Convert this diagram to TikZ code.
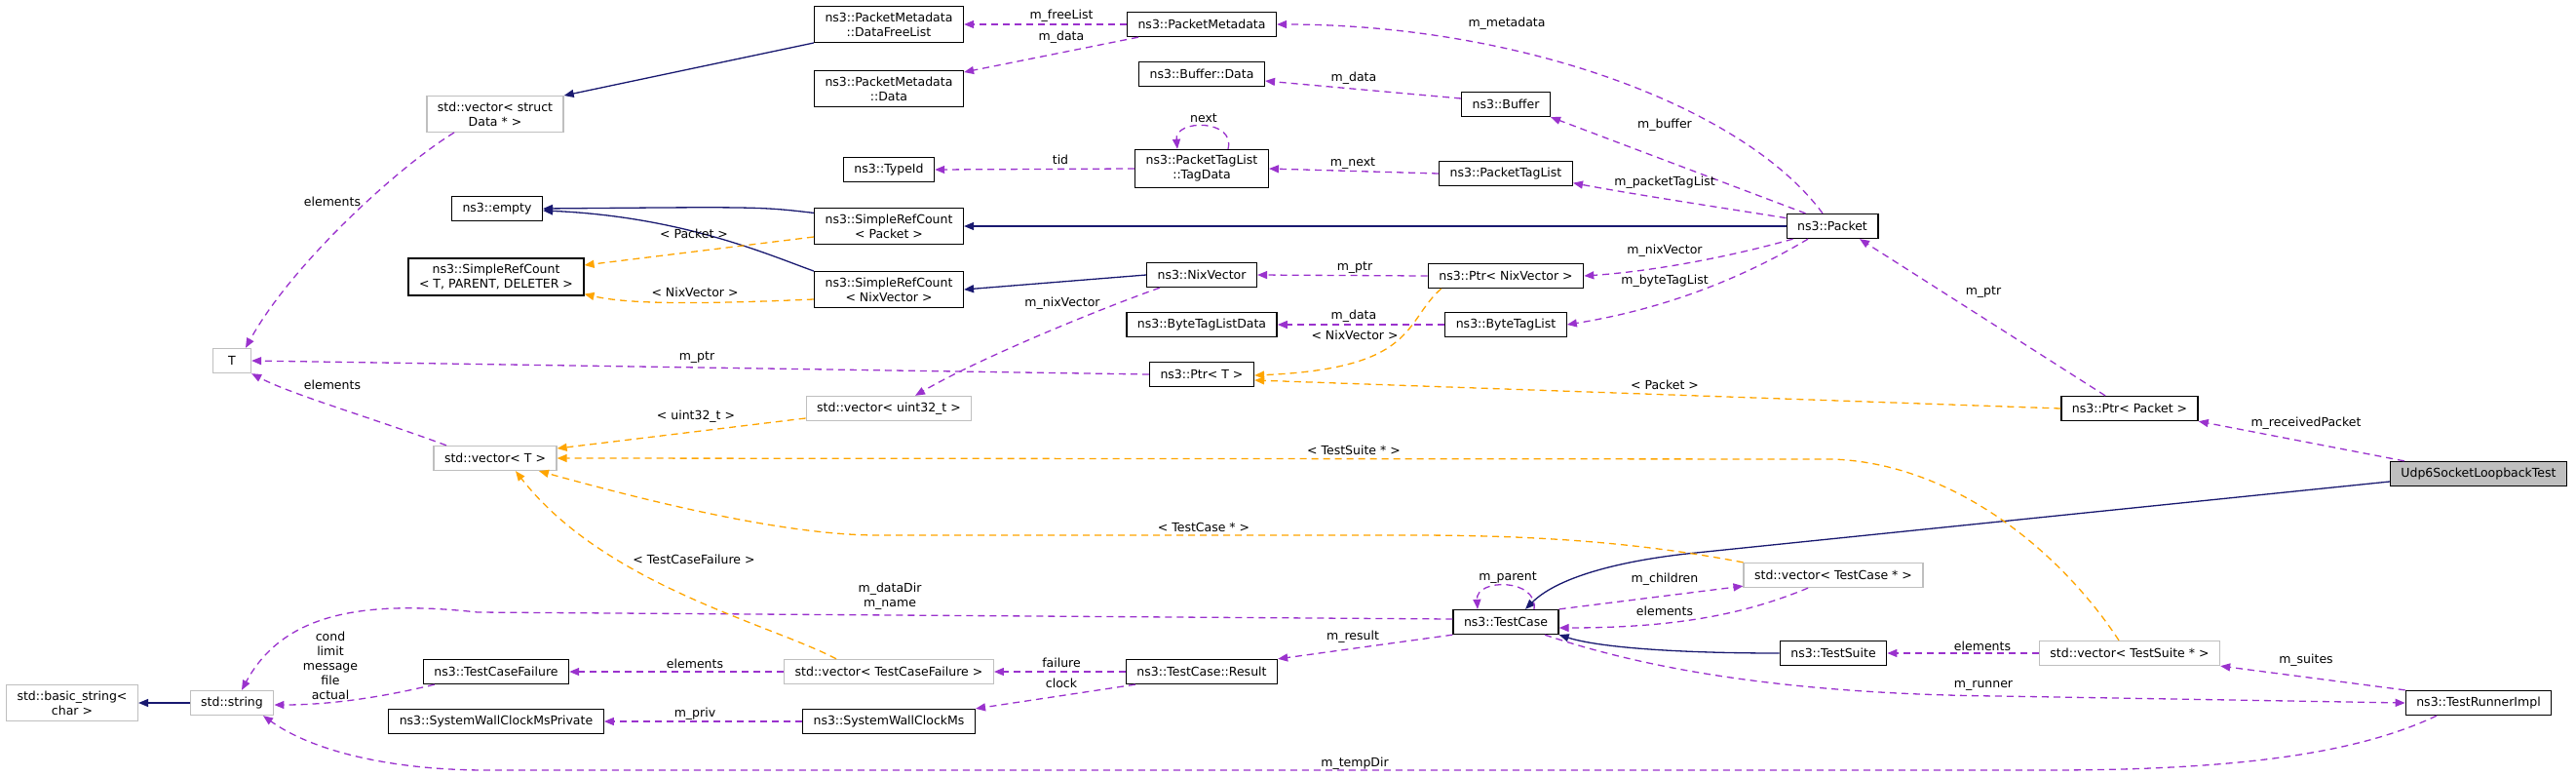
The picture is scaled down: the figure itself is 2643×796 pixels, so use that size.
\documentclass[tikz,border=0pt]{standalone}
\usepackage{fontspec}
\setmainfont{DejaVu Sans}
\usetikzlibrary{arrows.meta}
\definecolor{navy}{HTML}{191970}
\definecolor{orchid}{HTML}{9A32CD}
\definecolor{tmplorange}{HTML}{FFA500}
\definecolor{grey75}{HTML}{BFBFBF}
\newcommand{\dxfont}{\fontsize{12.5}{15}\selectfont}
\tikzset{
  cls/.style={draw=black, fill=white, line width=1.3pt, minimum height=25pt, minimum width=39pt,
    inner xsep=11pt, inner ysep=6pt, align=center, font=\dxfont},
  undoc/.style={cls, draw=grey75},
  focus/.style={cls, fill=grey75},
  lbl/.style={inner sep=0pt, align=center, font=\dxfont},
  inherit/.style={draw=navy, line width=1.3pt, -{Triangle[length=10pt,width=8pt]}},
  member/.style={draw=orchid, line width=1.3pt, dash pattern=on 7pt off 5pt, -{Triangle[length=10pt,width=8pt]}},
  templ/.style={draw=tmplorange, line width=1.3pt, dash pattern=on 7pt off 5pt, -{Triangle[length=10pt,width=8pt]}},
}
\begin{document}
\begin{tikzpicture}[x=1pt,y=-1pt]
\useasboundingbox (0,0) rectangle (2643,796);
\node [cls] (dfl) at (912,25) {ns3::PacketMetadata\\::DataFreeList};
\node [cls] (pmd) at (912,91) {ns3::PacketMetadata\\::Data};
\node [cls] (pm) at (1233,25) {ns3::PacketMetadata};
\node [cls] (bufd) at (1233,76) {ns3::Buffer::Data};
\node [cls] (buf) at (1545,107) {ns3::Buffer};
\node [undoc] (vecdata) at (508,117) {std::vector< struct\\Data * >};
\node [cls] (tid) at (912,174) {ns3::TypeId};
\node [cls] (tagd) at (1233,173) {ns3::PacketTagList\\::TagData};
\node [cls] (ptl) at (1545,178) {ns3::PacketTagList};
\node [cls] (empty) at (510,214) {ns3::empty};
\node [cls] (srcp) at (912,232) {ns3::SimpleRefCount\\< Packet >};
\node [cls] (pkt) at (1880,232) {ns3::Packet};
\node [cls] (srct) at (509,284) {ns3::SimpleRefCount\\< T, PARENT, DELETER >};
\node [cls] (srcn) at (912,297) {ns3::SimpleRefCount\\< NixVector >};
\node [cls] (nix) at (1233,282) {ns3::NixVector};
\node [cls] (ptrnix) at (1545,283) {ns3::Ptr< NixVector >};
\node [cls] (btld) at (1233,333) {ns3::ByteTagListData};
\node [cls] (btl) at (1545,333) {ns3::ByteTagList};
\node [undoc] (T) at (238,370) {T};
\node [cls] (ptrt) at (1233,384) {ns3::Ptr< T >};
\node [undoc] (vecu) at (912,419) {std::vector< uint32\_t >};
\node [cls] (ptrpkt) at (2185,419) {ns3::Ptr< Packet >};
\node [undoc] (vect) at (508,470) {std::vector< T >};
\node [focus] (udp) at (2543,486) {Udp6SocketLoopbackTest};
\node [undoc] (vectc) at (1881,590) {std::vector< TestCase * >};
\node [cls] (tc) at (1545,638) {ns3::TestCase};
\node [cls] (tsuite) at (1881,670) {ns3::TestSuite};
\node [undoc] (vects) at (2185,670) {std::vector< TestSuite * >};
\node [cls] (tcf) at (509,689) {ns3::TestCaseFailure};
\node [undoc] (vectcf) at (912,689) {std::vector< TestCaseFailure >};
\node [cls] (res) at (1233,689) {ns3::TestCase::Result};
\node [undoc] (bstr) at (74,721) {std::basic\_string<\\char >};
\node [undoc] (str) at (238,721) {std::string};
\node [cls] (runner) at (2543,721) {ns3::TestRunnerImpl};
\node [cls] (swcp) at (509,740) {ns3::SystemWallClockMsPrivate};
\node [cls] (swc) at (912,740) {ns3::SystemWallClockMs};

\draw [inherit] (dfl.south west) -- (vecdata.north east);
\draw [inherit] (srcp.170) .. controls (780,212) .. (empty.east);
\draw [inherit] (srcn.north west) .. controls (790,262) and (700,222) .. ([yshift=-2pt]empty.east);
\draw [inherit] (pkt.west) -- (srcp.east);
\draw [inherit] (nix.west) -- (srcn.east);
\draw [inherit] (tsuite.west) .. controls (1720,670) and (1640,664) .. (tc.south east);
\draw [inherit] ([yshift=-8pt]udp.west) -- (1740,567) .. controls (1670,574) and (1600,590) .. ([xshift=20pt]tc.north);
\draw [inherit] (str.west) -- (bstr.east);

\draw [member] (pm.west) -- (dfl.east);
\draw [member] ([xshift=12pt]pm.south west) -- ([yshift=-2pt]pmd.north east);
\draw [member] ([xshift=-10pt]pkt.north) .. controls (1790,110) and (1560,25) .. (pm.east);
\draw [member] ([xshift=20pt]pkt.north west) -- (buf.south east);
\draw [member] (pkt.170) .. controls (1760,212) and (1680,200) .. (ptl.-8);
\draw [member] ([xshift=7pt]pkt.south west) .. controls (1780,262) and (1700,278) .. (ptrnix.east);
\draw [member] ([xshift=-25pt]pkt.south) .. controls (1800,278) and (1720,315) .. (btl.east);
\draw [member] ([yshift=6pt]buf.west) -- ([yshift=-7pt]bufd.east);
\draw [member] (ptl.west) -- (tagd.east);
\draw [member] ([xshift=27pt]tagd.north) .. controls (1268,122) and (1205,122) .. ([xshift=-25pt]tagd.north);
\draw [member] (tagd.west) -- (tid.east);
\draw [member] (ptrnix.west) -- (nix.east);
\draw [member] (btl.west) -- (btld.east);
\draw [member] (ptrt.west) -- (T.east);
\draw [member] ([xshift=14pt]nix.south west) .. controls (1120,320) and (1000,370) .. ([xshift=27pt]vecu.north);
\draw [member] ([xshift=-50pt]vect.north) .. controls (380,428) and (300,405) .. (T.south east);
\draw [member] ([xshift=-42pt]vecdata.south) .. controls (410,170) and (300,270) .. ([xshift=14pt]T.north);
\draw [member] (vectcf.west) -- (tcf.east);
\draw [member] (res.west) -- (vectcf.east);
\draw [member] ([xshift=10pt]res.south west) -- (swc.north east);
\draw [member] (swc.west) -- (swcp.east);
\draw [member] ([xshift=12pt]tcf.south west) .. controls (380,718) and (330,723) .. ([yshift=-2pt]str.east);
\draw [member] ([yshift=3pt]tc.west) -- (490,628) .. controls (370,615) and (290,630) .. ([xshift=10pt]str.north);
\draw [member] (tc.south west) -- (res.north east);
\draw [member] (tc.north east) -- ([yshift=2pt]vectc.south west);
\draw [member] ([xshift=-26pt]vectc.south) .. controls (1790,630) and (1720,644) .. ([yshift=-6pt]tc.east);
\draw [member] ([xshift=29pt]tc.north) .. controls (1578,593) and (1514,593) .. ([xshift=-29pt]tc.north);
\draw [member] (vects.west) -- (tsuite.east);
\draw [member] (runner.north west) -- (vects.south east);
\draw [member] ([xshift=40pt]tc.south) .. controls (1700,690) and (1850,712) .. (2050,714) -- (runner.west);
\draw [member] ([xshift=-43pt]runner.south) .. controls (2420,772) and (2300,790) .. (2100,790) -- (500,790) .. controls (400,790) and (320,770) .. ([xshift=32pt]str.south);
\draw [member] ([xshift=15pt]udp.north west) -- (ptrpkt.south east);
\draw [member] ([xshift=-25pt]ptrpkt.north) -- ([xshift=28pt]pkt.south);

\draw [templ] ([yshift=-11pt]srcp.west) -- ([yshift=12pt]srct.east);
\draw [templ] ([yshift=-10pt]srcn.west) .. controls (700,313) and (640,311) .. ([yshift=2pt]srct.south east);
\draw [templ] ([xshift=14pt]ptrnix.south west) .. controls (1440,330) and (1455,378) .. ([yshift=-1pt]ptrt.east);
\draw [templ] (ptrpkt.west) -- ([yshift=-6pt]ptrt.east);
\draw [templ] ([yshift=-10pt]vecu.west) -- ([yshift=10pt]vect.east);
\draw [templ] ([xshift=-11pt]vects.north) .. controls (2110,560) and (2000,475) .. (1880,471) -- (vect.east);
\draw [templ] (vectc.north west) .. controls (1700,560) and (1600,549) .. (1450,549) -- (900,549) .. controls (800,549) and (650,510) .. ([xshift=45pt]vect.south);
\draw [templ] ([xshift=-54pt]vectcf.north) .. controls (790,640) and (620,600) .. ([xshift=21pt]vect.south);

\node [lbl] (lfree) at (1089,16) {m\_freeList};
\node [lbl] (lpmdata) at (1089,38) {m\_data};
\node [lbl] (lmeta) at (1546,24) {m\_metadata};
\node [lbl] (lbufdata) at (1389,80) {m\_data};
\node [lbl] (lbuf) at (1708,128) {m\_buffer};
\node [lbl] (lnext) at (1235,121) {next};
\node [lbl] (ltid) at (1088,164) {tid};
\node [lbl] (lmnext) at (1388,168) {m\_next};
\node [lbl] (lptl) at (1708,187) {m\_packetTagList};
\node [lbl] (lvdel) at (341,207) {elements};
\node [lbl] (lsrcp) at (712,240) {< Packet >};
\node [lbl] (lpnix) at (1708,257) {m\_nixVector};
\node [lbl] (lptrnix) at (1390,275) {m\_ptr};
\node [lbl] (lbtl) at (1708,288) {m\_byteTagList};
\node [lbl] (lsrcn) at (713,300) {< NixVector >};
\node [lbl] (lpkt) at (2035,300) {m\_ptr};
\node [lbl] (lnixvec) at (1090,311) {m\_nixVector};
\node [lbl] (lbtld) at (1389,324) {m\_data};
\node [lbl] (lptrtn) at (1390,344) {< NixVector >};
\node [lbl] (lptrT) at (715,367) {m\_ptr};
\node [lbl] (lvtel) at (341,395) {elements};
\node [lbl] (lptrtp) at (1708,395) {< Packet >};
\node [lbl] (lu32) at (714,427) {< uint32\_t >};
\node [lbl] (lrecv) at (2366,434) {m\_receivedPacket};
\node [lbl] (lvts) at (1389,462) {< TestSuite * >};
\node [lbl] (lvtc) at (1235,541) {< TestCase * >};
\node [lbl] (lvtcf) at (712,574) {< TestCaseFailure >};
\node [lbl] (lparent) at (1547,593) {m\_parent};
\node [lbl] (lchild) at (1708,594) {m\_children};
\node [lbl] (lname) at (913,612) {m\_dataDir\\m\_name};
\node [lbl] (lelem) at (1708,627) {elements};
\node [lbl] (lresult) at (1388,653) {m\_result};
\node [lbl] (lsuite) at (2034,663) {elements};
\node [lbl] (lsuites) at (2366,677) {m\_suites};
\node [lbl] (ltcf) at (713,681) {elements};
\node [lbl] (lfail) at (1089,680) {failure};
\node [lbl] (lcond) at (339,683) {cond\\limit\\message\\file\\actual};
\node [lbl] (lclock) at (1089,701) {clock};
\node [lbl] (lrunner) at (2035,703) {m\_runner};
\node [lbl] (lpriv) at (713,732) {m\_priv};
\node [lbl] (ltemp) at (1390,783) {m\_tempDir};
\end{tikzpicture}
\end{document}
